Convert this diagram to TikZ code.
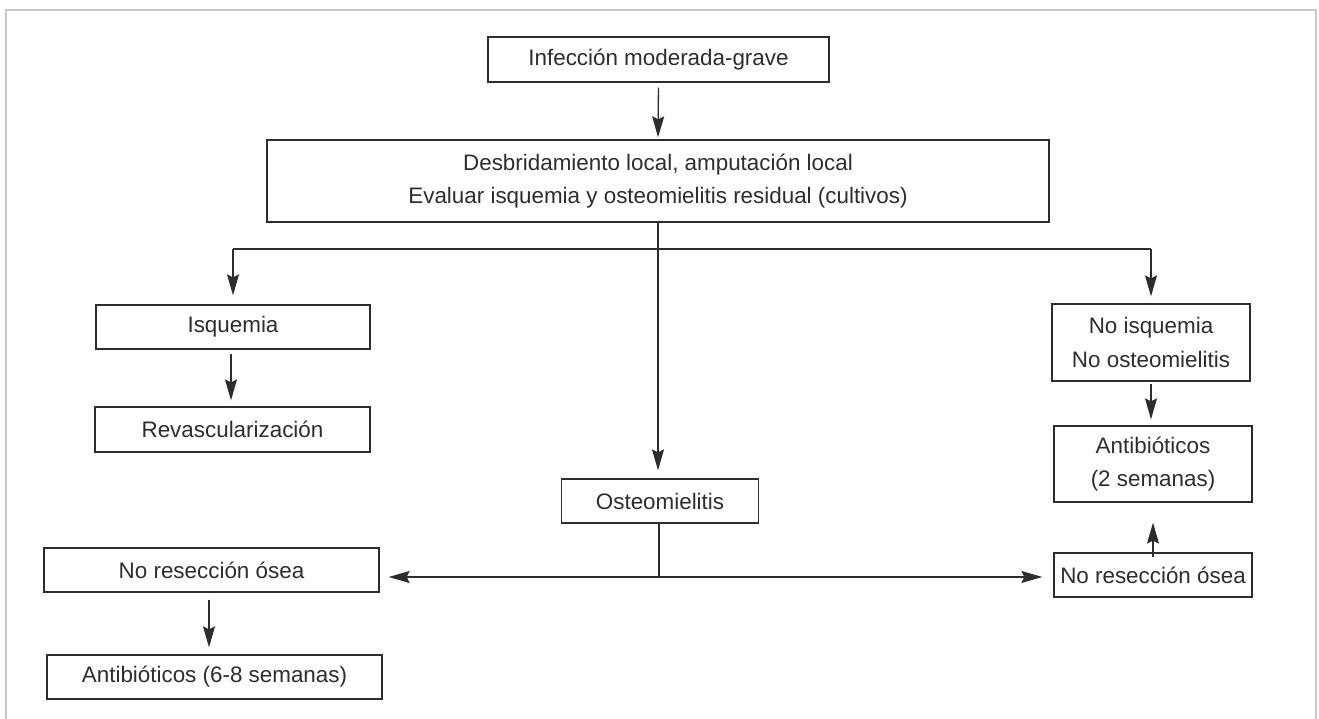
\documentclass[tikz,border=0pt]{standalone}
\usepackage{fontspec}
\setmainfont{Liberation Sans}
\usetikzlibrary{arrows.meta}
\definecolor{framegray}{RGB}{200,200,204}
\definecolor{ink}{RGB}{45,45,45}
\begin{document}
\begin{tikzpicture}[x=1pt,y=-1pt,
  box/.style={draw=ink, line width=1.3pt, inner sep=0pt, align=center,
    font=\fontsize{22.4}{33.5}\selectfont, text=ink},
  conn/.style={draw=ink, line width=1.3pt},
  arr/.style={conn, -{Stealth[length=21pt,width=12pt,inset=3pt]}}]
\useasboundingbox (0,0) rectangle (1319,719);
% frame
\draw[framegray, line width=2.6pt] (6,719) -- (6,10) -- (1316,10) -- (1316,719);
% nodes
\node[box, minimum width=341pt, minimum height=45pt] (inf) at (658.5,59.5) {Infección moderada-grave};
\node[box, minimum width=782pt, minimum height=82pt] (desb) at (658,181) {Desbridamiento local, amputación local\\Evaluar isquemia y osteomielitis residual (cultivos)};
\node[box, minimum width=274pt, minimum height=44pt] (isq) at (233,327) {Isquemia};
\node[box, minimum width=275pt, minimum height=45pt] (rev) at (232.5,429.5) {Revascularización};
\node[box, minimum width=197pt, minimum height=44pt] (ost) at (660,501) {Osteomielitis};
\node[box, minimum width=335pt, minimum height=44pt] (nres1) at (211.5,570) {No resección ósea};
\node[box, minimum width=335pt, minimum height=44pt] (ab68) at (214.5,677) {Antibióticos (6-8 semanas)};
\node[box, minimum width=198pt, minimum height=77pt] (noisq) at (1151,342.5) {No isquemia\\No osteomielitis};
\node[box, minimum width=198pt, minimum height=76pt] (ab2) at (1153,464) {Antibióticos\\(2 semanas)};
\node[box, minimum width=198pt, minimum height=44pt] (nres2) at (1153,575) {No resección ósea};
% junctions
\coordinate (jl) at (233,249);
\coordinate (jr) at (1151,249);
\coordinate (jb) at (659,577);
% connectors
\draw[arr, shorten <=5pt, shorten >=2pt] (inf.south) -- (desb.north);
\draw[arr, shorten >=8pt] (desb.south) -- (desb.south |- ost.north);
\draw[conn] (jl) -- (jr);
\draw[arr, shorten >=9pt] (jl) -- (isq.north);
\draw[arr, shorten >=7pt] (jr) -- (noisq.north);
\draw[arr, shorten <=5pt, shorten >=6pt] (231,349) -- (rev.north -| 231,0);
\draw[conn] (ost.south -| jb) -- (jb);
\draw[arr, shorten >=9pt] (jb) -- (nres1.east |- jb);
\draw[arr, shorten >=11pt] (jb) -- (nres2.west |- jb);
\draw[arr, shorten <=7pt, shorten >=7pt] (nres1.south -| 209,0) -- (ab68.north -| 209,0);
\draw[arr, shorten <=2pt, shorten >=6pt] (noisq.south) -- (noisq.south |- ab2.north);
\draw[arr, shorten <=-5pt, shorten >=20pt] (nres2.north) -- (nres2.north |- ab2.south);
\end{tikzpicture}
\end{document}
